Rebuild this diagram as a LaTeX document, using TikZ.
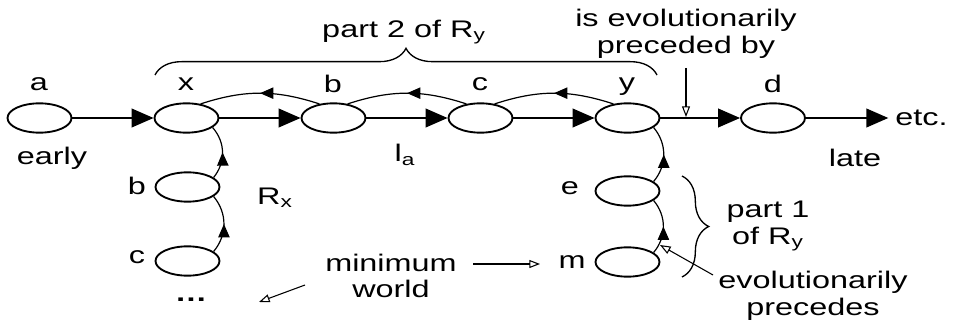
\documentclass[tikz,border=0pt]{standalone}
\usepackage{fontspec}
\setmainfont{Liberation Sans}
\usetikzlibrary{shapes.geometric,arrows.meta,decorations.pathreplacing,decorations.markings}
\tikzset{
  world/.style={ellipse,draw,line width=1.4pt,minimum width=48pt,minimum height=22pt,inner sep=0pt},
  txt/.style={inner sep=0pt,font=\fontsize{18}{20}\selectfont,xscale=1.35,align=center},
  mainarr/.style={line width=1.5pt,-{Triangle[length=16.5pt,width=14pt]}},
  midarrow/.style={line width=0.9pt,postaction={decorate},decoration={markings,mark=at position 0.5 with {\arrow{Triangle[length=10pt,width=8.5pt]}}}},
  openarr/.style={line width=0.8pt,-{Triangle[open,length=8pt,width=6pt]}},
  bracestyle/.style={line width=1pt,decorate,decoration={brace,amplitude=#1}}
}
\begin{document}
\begin{tikzpicture}[x=0.75pt,y=-0.75pt]
\useasboundingbox (0,0) rectangle (953,324);
% main row
\node[world] (a) at (39.5,118) {};
\node[world] (x) at (186.5,118) {};
\node[world] (b) at (333.5,118) {};
\node[world] (c) at (480.5,118) {};
\node[world] (y) at (627.5,118) {};
\node[world] (d) at (773,118) {};
\node[txt,anchor=west] (etc) at (895,118) {etc.};
% columns
\node[world] (bl) at (187.5,187) {};
\node[world] (cl) at (187.5,261) {};
\node[world] (e) at (627.5,191) {};
\node[world] (m) at (627.5,262) {};
% labels
\node[txt] (la) at (39,84) {a};
\node[txt] (lx) at (186,84) {x};
\node[txt] (lb) at (333,84) {b};
\node[txt] (lc) at (480,84) {c};
\node[txt] (ly) at (627,87) {y};
\node[txt] (ld) at (773,84) {d};
\node[txt] (early) at (52,158) {early};
\node[txt] (late) at (855,158) {late};
\node[txt] (ia) at (405,155) {l\textsubscript{a}};
\node[txt] (rx) at (275,198) {R\textsubscript{x}};
\node[txt] (lbl) at (137,186) {b};
\node[txt] (lcl) at (137,257) {c};
\node[txt] (dots) at (191,300) {\textbf{…}};
\node[txt] (le) at (570,188) {e};
\node[txt] (lm) at (572,262) {m};
\node[txt] (minw) at (391,276) {minimum\\world};
\node[txt] (p1) at (768,226) {part 1\\of R\textsubscript{y}};
\node[txt] (evp) at (813,296) {evolutionarily\\precedes};
\node[txt] (p2) at (404,32) {part 2 of R\textsubscript{y}};
\node[txt] (iep) at (686,34) {is evolutionarily\\preceded by};
% main arrows
\draw[mainarr] (a) -- (x);
\draw[mainarr] (x) -- (b);
\draw[mainarr] (b) -- (c);
\draw[mainarr] (c) -- (y);
\draw[mainarr] (y) -- (d);
\draw[mainarr,shorten >=5pt] (d) -- (etc);
% back arcs
\draw[midarrow] (b.135) to[bend right=18] (x.45);
\draw[midarrow] (c.135) to[bend right=18] (b.45);
\draw[midarrow] (y.135) to[bend right=18] (c.45);
% vertical arcs
\draw[midarrow] (bl.20) to[bend right=40] (x.-20);
\draw[midarrow] (cl.20) to[bend right=40] (bl.-20);
\draw[midarrow] (e.20) to[bend right=40] (y.-20);
\draw[midarrow] (m.20) to[bend right=40] (e.-20);
% braces
\coordinate (tb1) at (155,75);
\coordinate (tb2) at (657,75);
\draw[bracestyle=20pt] (tb1) -- (tb2);
\coordinate (rb1) at (682,176);
\coordinate (rb2) at (682,277);
\draw[bracestyle=20pt] (rb1) -- (rb2);
% pointer arrows
\coordinate (iepstart) at (686,68);
\coordinate (iepend) at (686,117);
\draw[openarr] (iepstart) -- (iepend);
\coordinate (evpstart) at (713,275);
\coordinate (evpend) at (660,245);
\draw[openarr] (evpstart) -- (evpend);
\coordinate (mwr1) at (473,264);
\coordinate (mwr2) at (540,264);
\draw[openarr] (mwr1) -- (mwr2);
\coordinate (mwl1) at (305,285);
\coordinate (mwl2) at (259,302);
\draw[openarr] (mwl1) -- (mwl2);
\end{tikzpicture}
\end{document}
